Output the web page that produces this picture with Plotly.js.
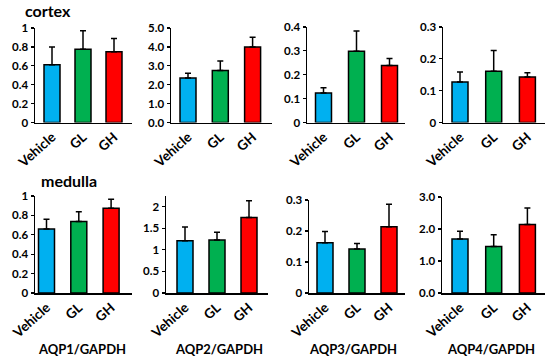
<!DOCTYPE html>
<html><head><meta charset="utf-8">
<script src="https://cdn.plot.ly/plotly-3.0.1.min.js"></script>
<style>html,body{margin:0;padding:0;background:#fff}#c{width:550px;height:362px}</style>
</head><body><div id="c"></div>
<script>
const categories = ['Vehicle', 'GL', 'GH'];
const barColors = ['#00B0F0', '#00B050', '#FF0000'];
const panelTitles = ['AQP1/GAPDH', 'AQP2/GAPDH', 'AQP3/GAPDH', 'AQP4/GAPDH'];
const rowLabels = ['cortex', 'medulla'];

// cortex: mean values and upper error (SD)
const cortexAQP1 = [0.61, 0.775, 0.75];
const cortexAQP1Err = [0.19, 0.195, 0.14];
const cortexAQP2 = [2.35, 2.75, 3.99];
const cortexAQP2Err = [0.25, 0.5, 0.52];
const cortexAQP3 = [0.124, 0.298, 0.239];
const cortexAQP3Err = [0.022, 0.085, 0.029];
const cortexAQP4 = [0.127, 0.161, 0.143];
const cortexAQP4Err = [0.032, 0.065, 0.013];

// medulla
const medullaAQP1 = [0.661, 0.737, 0.873];
const medullaAQP1Err = [0.10, 0.10, 0.093];
const medullaAQP2 = [1.21, 1.23, 1.75];
const medullaAQP2Err = [0.32, 0.18, 0.39];
const medullaAQP3 = [0.162, 0.142, 0.214];
const medullaAQP3Err = [0.036, 0.018, 0.072];
const medullaAQP4 = [1.69, 1.45, 2.14];
const medullaAQP4Err = [0.24, 0.37, 0.52];

// y axis settings
const yMax = [1, 5, 0.4, 0.3, 1, 2.25, 0.3, 3];
const yDtick = [0.2, 1, 0.1, 0.1, 0.2, 0.5, 0.1, 1];
const yFormat = ['', '.1f', '', '', '', '', '', '.1f'];

const series = [cortexAQP1, cortexAQP2, cortexAQP3, cortexAQP4, medullaAQP1, medullaAQP2, medullaAQP3, medullaAQP4];
const errors = [cortexAQP1Err, cortexAQP2Err, cortexAQP3Err, cortexAQP4Err, medullaAQP1Err, medullaAQP2Err, medullaAQP3Err, medullaAQP4Err];

// panel geometry in pixels: left, right, first bar centre, spacing, top, bottom
const geo = [
  [35, 132, 52, 31, 28, 122.5],
  [171, 272, 188, 32.3, 28, 122.5],
  [307, 405, 323.5, 33, 27, 122.5],
  [443, 545, 460, 33.7, 27, 122.5],
  [35, 132, 46.5, 32.3, 196, 293],
  [166, 268, 185, 32, 196, 293],
  [309, 405, 325, 32, 200, 293],
  [442, 545, 460, 33.7, 197, 293]
];

const W = 550, H = 362;
const FONT = 'Lato, "Open Sans", sans-serif';
const traces = [];
const layout = {
  width: W, height: H, margin: {l: 0, r: 0, t: 0, b: 0},
  paper_bgcolor: '#fff', plot_bgcolor: '#fff', showlegend: false,
  font: {family: FONT, color: '#000', size: 11, weight: 700},
  annotations: []
};

for (let i = 0; i < 8; i++) {
  const [L, R, c0, s, T, B] = geo[i];
  const sfx = i === 0 ? '' : String(i + 1);
  traces.push({
    type: 'bar', x: categories, y: series[i],
    xaxis: 'x' + sfx, yaxis: 'y' + sfx,
    width: 16 / s,
    marker: {color: barColors, line: {color: '#000', width: 1.5}},
    error_y: {type: 'data', symmetric: false, array: errors[i], arrayminus: [0, 0, 0],
              color: '#000', thickness: 1.5, width: 3},
    hoverinfo: 'none'
  });
  layout['xaxis' + sfx] = {
    domain: [L / W, R / W], anchor: 'y' + sfx,
    range: [(L - c0) / s, (R - c0) / s],
    showline: true, linecolor: '#000', linewidth: 1.5, ticks: '',
    showgrid: false, zeroline: false, tickangle: -42, fixedrange: true,
    tickfont: {family: FONT, size: 13.5, color: '#000', weight: 700}
  };
  layout['yaxis' + sfx] = {
    domain: [1 - B / H, 1 - T / H], anchor: 'x' + sfx,
    range: [0, yMax[i]], dtick: yDtick[i], tick0: 0, tickformat: yFormat[i],
    showline: true, linecolor: '#000', linewidth: 1.5,
    ticks: 'outside', ticklen: 3, tickwidth: 1.2, tickcolor: '#000',
    showgrid: false, zeroline: false, fixedrange: true,
    tickfont: {family: FONT, size: 11.5, color: '#000', weight: 700}
  };
}

const titleX = [82, 219, 353, 491];
for (let j = 0; j < 4; j++) {
  layout.annotations.push({
    text: panelTitles[j], xref: 'paper', yref: 'paper',
    x: titleX[j] / W, y: 1 - 349 / H, xanchor: 'center', yanchor: 'middle',
    showarrow: false, font: {family: FONT, size: 13, color: '#000', weight: 700}
  });
}
layout.annotations.push({
  text: rowLabels[0], xref: 'paper', yref: 'paper', x: 48 / W, y: 1 - 11 / H,
  xanchor: 'center', yanchor: 'middle', showarrow: false,
  font: {family: FONT, size: 16, color: '#000', weight: 700}
});
layout.annotations.push({
  text: rowLabels[1], xref: 'paper', yref: 'paper', x: 69 / W, y: 1 - 180 / H,
  xanchor: 'center', yanchor: 'middle', showarrow: false,
  font: {family: FONT, size: 16, color: '#000', weight: 700}
});

Plotly.newPlot('c', traces, layout, {staticPlot: true, displayModeBar: false});
</script></body></html>
